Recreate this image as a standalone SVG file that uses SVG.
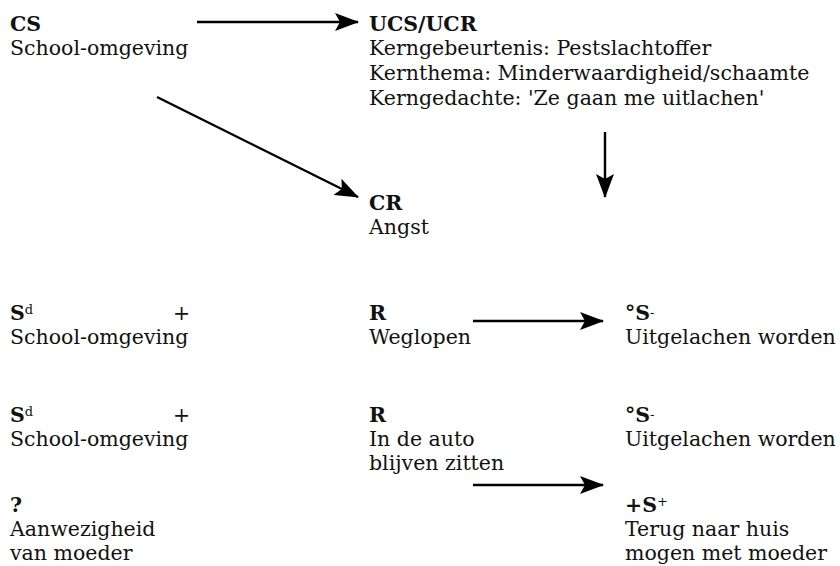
<svg xmlns="http://www.w3.org/2000/svg" width="840" height="566" viewBox="0 0 840 566">
<style>
text{font-family:"DejaVu Serif","Liberation Serif",serif;font-size:20.5px;fill:#111}
.b{font-weight:bold}
.sup{font-size:13px;font-weight:normal}
.c{stroke:#000;stroke-width:2.4;fill:none}
</style>
<defs>
<marker id="ah" viewBox="0 0 24 18" refX="23" refY="9" markerWidth="24" markerHeight="18" markerUnits="userSpaceOnUse" orient="auto">
<path d="M0,0 L24,9 L0,18 L5,9 Z" fill="#000"/>
</marker>
</defs>
<rect width="840" height="566" fill="#fff"/>
<g id="connectors">
<line class="c" x1="197" y1="22" x2="358" y2="22" marker-end="url(#ah)"/>
<line class="c" x1="157" y1="97" x2="358" y2="197" marker-end="url(#ah)"/>
<line class="c" x1="605" y1="132" x2="605" y2="197" marker-end="url(#ah)"/>
<line class="c" x1="473" y1="321" x2="603" y2="321" marker-end="url(#ah)"/>
<line class="c" x1="473" y1="485" x2="603" y2="485" marker-end="url(#ah)"/>
</g>
<g id="cs">
<text x="10" y="31" class="b">CS</text>
<text x="10" y="55">School-omgeving</text>
</g>
<g id="ucs">
<text x="369" y="31" class="b">UCS/UCR</text>
<text x="369" y="55">Kerngebeurtenis: Pestslachtoffer</text>
<text x="369" y="80">Kernthema: Minderwaardigheid/schaamte</text>
<text x="369" y="105">Kerngedachte: 'Ze gaan me uitlachen'</text>
</g>
<g id="cr">
<text x="369" y="210" class="b">CR</text>
<text x="369" y="234">Angst</text>
</g>
<g id="sd1">
<text x="10" y="320"><tspan class="b">S</tspan><tspan class="sup" dy="-6">d</tspan></text>
<text x="173" y="320">+</text>
<text x="10" y="344">School-omgeving</text>
</g>
<g id="r1">
<text x="369" y="320" class="b">R</text>
<text x="369" y="344">Weglopen</text>
</g>
<g id="s1">
<text x="625" y="320"><tspan class="b">°S</tspan><tspan class="sup" dy="-3">-</tspan></text>
<text x="625" y="344">Uitgelachen worden</text>
</g>
<g id="sd2">
<text x="10" y="422"><tspan class="b">S</tspan><tspan class="sup" dy="-6">d</tspan></text>
<text x="173" y="422">+</text>
<text x="10" y="446">School-omgeving</text>
</g>
<g id="r2">
<text x="369" y="422" class="b">R</text>
<text x="369" y="446">In de auto</text>
<text x="369" y="470">blijven zitten</text>
</g>
<g id="s2">
<text x="625" y="422"><tspan class="b">°S</tspan><tspan class="sup" dy="-3">-</tspan></text>
<text x="625" y="446">Uitgelachen worden</text>
</g>
<g id="q">
<text x="10" y="512" class="b">?</text>
<text x="10" y="536">Aanwezigheid</text>
<text x="10" y="560">van moeder</text>
</g>
<g id="s3">
<text x="625" y="512"><tspan class="b">+S</tspan><tspan class="sup" dy="-6">+</tspan></text>
<text x="625" y="536">Terug naar huis</text>
<text x="625" y="560">mogen met moeder</text>
</g>
</svg>
